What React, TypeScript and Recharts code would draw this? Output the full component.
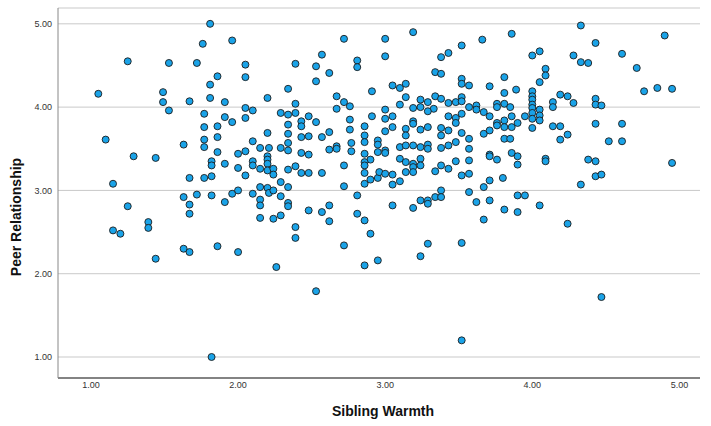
import { ScatterChart, Scatter, XAxis, YAxis, CartesianGrid, Label } from 'recharts'

// x = sibling warmth, y = peer relationship, paired by index
const siblingWarmth = [
  1.81, 1.76, 1.25, 1.53, 1.72, 1.86, 1.81, 1.05, 1.49, 1.49, 1.67, 1.81, 1.53, 1.77, 1.77, 1.86,
  1.10, 1.63, 1.77, 1.77, 1.86, 1.86, 1.29, 1.44, 1.82, 1.82, 1.67, 1.77, 1.82, 1.15, 1.63, 1.72,
  1.82, 1.25, 1.67, 1.67, 1.39, 1.39, 1.15, 1.20, 1.63, 1.67, 1.86, 1.44, 1.82,
  1.96, 2.72, 2.57, 2.05, 2.39, 2.53, 2.81, 2.81, 2.05, 2.62, 2.53, 2.34, 2.91, 1.91, 2.20, 2.67,
  2.39, 2.05, 2.10, 2.67, 2.72, 2.76, 1.91, 1.96, 2.05, 2.29, 2.34, 2.39, 2.43, 2.43, 2.48, 2.53,
  2.34, 2.76, 2.76, 2.86, 2.91, 2.20, 2.34, 2.62,
  2.10, 2.34, 2.43, 2.48, 2.57, 2.77, 2.86, 2.86, 2.95, 2.95, 2.05, 2.00, 2.15, 2.21, 2.29, 2.34,
  2.43, 2.48, 2.62, 2.67, 2.67, 2.77, 2.86, 2.90, 2.95, 1.91, 2.00, 2.10, 2.10, 2.20, 2.20, 2.20,
  2.15, 2.20, 2.24, 2.24, 2.34, 2.39, 2.43, 2.48, 2.57, 2.72, 2.86, 2.86, 2.86, 2.86, 2.90, 2.95,
  2.05, 2.29, 2.15, 2.20, 2.21, 2.24, 2.34, 2.72, 1.96, 2.00, 2.10, 2.15, 2.15, 2.29, 2.34, 2.34,
  2.81, 1.91, 2.48, 2.62, 2.57, 2.15, 2.24, 2.29, 2.62, 2.81, 2.86, 2.39, 2.39, 2.90, 2.00, 2.72,
  2.95, 2.26, 2.53, 2.86,
  3.19, 3.00, 3.86, 3.66, 3.00, 3.38, 3.43, 3.52, 4.00, 4.05, 3.34, 3.38, 3.52, 3.52, 3.57, 3.81,
  3.71, 3.05, 3.10, 3.14, 3.81, 3.89, 4.05, 4.00, 3.14, 3.34, 3.38, 3.24, 3.29, 3.10, 3.43, 3.48,
  3.52, 3.52, 3.00, 3.19, 3.24, 3.33, 3.57, 3.62, 3.62, 3.67, 3.76, 3.76, 3.81, 3.85, 4.00, 4.00,
  4.00, 4.00, 4.00, 4.05, 4.05, 3.00, 3.05, 3.29, 3.43, 3.48, 3.52, 3.71, 3.86, 3.95, 3.81, 4.00,
  3.19, 3.19, 3.48, 3.76, 3.76, 3.90, 3.05, 3.00, 3.14, 3.24, 3.29, 3.38, 3.43, 3.52, 3.67, 3.71,
  3.81, 3.86, 4.00,
  3.38, 3.14, 3.00, 3.00, 3.10, 3.14, 3.19, 3.24, 3.29, 3.29, 3.38, 3.43, 3.48, 3.57, 3.57, 3.81,
  3.85, 3.10, 3.14, 3.19, 3.19, 3.24, 3.24, 3.38, 3.43, 3.48, 3.57, 3.71, 3.71, 3.76, 3.86, 3.90,
  3.90, 2.96, 3.00, 3.05, 3.05, 3.10, 3.14, 3.19, 3.34, 3.52, 3.57, 3.71, 3.67, 3.80, 3.38, 3.57,
  3.90, 3.95, 3.24, 3.29, 3.29, 3.34, 3.38, 3.62, 3.71, 3.05, 3.19, 3.81, 3.90, 4.05, 3.67, 3.29,
  3.52, 3.24, 3.52,
  4.33, 4.90, 4.43, 4.28, 4.33, 4.38, 4.61, 4.71, 4.09, 4.09, 4.76, 4.85, 4.95, 4.19, 4.24, 4.14,
  4.14, 4.28, 4.43, 4.43, 4.47, 4.05, 4.14, 4.19, 4.43, 4.61, 4.24,
  4.19, 4.52, 4.61, 4.09, 4.09, 4.38, 4.43, 4.95, 4.43, 4.47, 4.33, 4.24, 4.47,
]

const peerRelationship = [
  5.00, 4.76, 4.55, 4.53, 4.53, 4.37, 4.27, 4.16, 4.18, 4.06, 4.07, 4.11, 3.96, 3.92, 3.76, 3.77,
  3.61, 3.55, 3.61, 3.52, 3.64, 3.46, 3.41, 3.39, 3.35, 3.30, 3.15, 3.15, 3.17, 3.08, 2.92, 2.95,
  2.94, 2.81, 2.83, 2.72, 2.62, 2.55, 2.52, 2.48, 2.30, 2.26, 2.33, 2.18, 1.00,
  4.80, 4.82, 4.63, 4.51, 4.52, 4.49, 4.56, 4.48, 4.36, 4.41, 4.31, 4.22, 4.19, 4.06, 4.11, 4.13,
  4.04, 3.99, 3.96, 3.98, 4.06, 4.01, 3.88, 3.82, 3.87, 3.93, 3.91, 3.93, 3.83, 3.77, 3.89, 3.82,
  3.79, 3.85, 3.73, 3.77, 3.89, 3.69, 3.68, 3.70,
  3.59, 3.57, 3.64, 3.65, 3.64, 3.57, 3.66, 3.58, 3.60, 3.55, 3.47, 3.44, 3.51, 3.51, 3.51, 3.48,
  3.45, 3.43, 3.49, 3.53, 3.50, 3.47, 3.44, 3.37, 3.46, 3.32, 3.27, 3.35, 3.30, 3.41, 3.37, 3.32,
  3.26, 3.24, 3.26, 3.19, 3.25, 3.29, 3.21, 3.21, 3.21, 3.30, 3.34, 3.30, 3.21, 3.08, 3.13, 3.15,
  3.18, 3.10, 3.04, 3.03, 2.97, 3.00, 3.04, 3.05, 2.96, 3.00, 2.96, 2.89, 2.82, 2.93, 2.85, 2.81,
  2.94, 2.86, 2.76, 2.82, 2.74, 2.67, 2.66, 2.70, 2.63, 2.72, 2.64, 2.56, 2.43, 2.48, 2.26, 2.34,
  2.16, 2.08, 1.79, 2.10,
  4.90, 4.82, 4.88, 4.81, 4.61, 4.60, 4.65, 4.74, 4.62, 4.67, 4.42, 4.40, 4.34, 4.28, 4.26, 4.36,
  4.25, 4.26, 4.23, 4.28, 4.17, 4.21, 4.30, 4.19, 4.12, 4.13, 4.10, 4.09, 4.06, 4.03, 4.05, 4.06,
  4.12, 4.07, 3.97, 3.99, 4.00, 3.98, 4.00, 4.02, 3.97, 3.94, 4.04, 4.00, 4.04, 4.00, 4.13, 4.09,
  4.03, 3.99, 3.93, 3.97, 3.90, 3.86, 3.89, 3.95, 3.89, 3.87, 3.92, 3.89, 3.89, 3.89, 3.84, 3.86,
  3.83, 3.80, 3.81, 3.81, 3.78, 3.81, 3.76, 3.71, 3.74, 3.73, 3.76, 3.75, 3.72, 3.69, 3.68, 3.72,
  3.76, 3.76, 3.75,
  3.66, 3.66, 3.48, 3.45, 3.52, 3.54, 3.54, 3.52, 3.55, 3.50, 3.51, 3.54, 3.58, 3.62, 3.50, 3.62,
  3.62, 3.38, 3.34, 3.32, 3.28, 3.38, 3.30, 3.30, 3.26, 3.35, 3.36, 3.43, 3.41, 3.37, 3.45, 3.41,
  3.31, 3.22, 3.20, 3.19, 3.07, 3.11, 3.22, 3.22, 3.23, 3.18, 3.20, 3.12, 3.04, 3.15, 3.00, 2.98,
  2.94, 2.94, 2.88, 2.88, 2.84, 2.92, 2.92, 2.86, 2.88, 2.82, 2.79, 2.77, 2.74, 2.82, 2.65, 2.36,
  2.37, 2.21, 1.20,
  4.98, 4.86, 4.77, 4.62, 4.54, 4.53, 4.64, 4.47, 4.46, 4.38, 4.19, 4.23, 4.22, 4.15, 4.13, 4.06,
  4.00, 4.05, 4.10, 4.03, 4.02, 3.84, 3.77, 3.77, 3.80, 3.80, 3.67,
  3.61, 3.59, 3.59, 3.38, 3.35, 3.37, 3.35, 3.33, 3.17, 3.19, 3.07, 2.60, 1.72,
]

const xTicks = [1, 2, 3, 4, 5]
const yTicks = [1, 2, 3, 4, 5]

const points = siblingWarmth.map((x, i) => ({ x, y: peerRelationship[i] }))

const font = '"Liberation Sans", Arial, sans-serif'

const Dot = (props: any) => {
  const { cx, cy } = props
  return <circle cx={cx} cy={cy} r={3.5} fill="#1aa3e8" stroke="#1c1c1c" strokeWidth={0.9} />
}

export default function App() {
  return (
    <div style={{ position: 'absolute', left: 0, top: 0, width: 711, height: 426, background: '#fff' }}>
      <ScatterChart width={711} height={426} margin={{ top: 8, right: 11, bottom: 0, left: 0 }}>
        <CartesianGrid vertical={false} stroke="#c9c9c9" strokeWidth={1} />
        <XAxis
          type="number"
          dataKey="x"
          domain={[0.776, 5.14]}
          ticks={xTicks}
          allowDataOverflow
          height={48}
          tickLine={false}
          tickSize={2}
          axisLine={{ stroke: '#222' }}
          tick={{ fontSize: 9, fill: '#333', fontFamily: font }}
          tickFormatter={(v: number) => v.toFixed(2)}
        >
          <Label
            content={({ viewBox }: any) => (
              <text
                x={viewBox.x + viewBox.width / 2 + 4}
                y={viewBox.y + 38}
                textAnchor="middle"
                fontFamily={font}
                fontWeight="bold"
                fontSize={14}
                fill="#111"
              >
                Sibling Warmth
              </text>
            )}
          />
        </XAxis>
        <YAxis
          type="number"
          dataKey="y"
          domain={[0.748, 5.19]}
          ticks={yTicks}
          allowDataOverflow
          width={58}
          tickLine={false}
          tickSize={4}
          axisLine={{ stroke: '#888' }}
          tick={{ fontSize: 9, fill: '#333', fontFamily: font }}
          tickFormatter={(v: number) => v.toFixed(2)}
        >
          <Label
            content={({ viewBox }: any) => (
              <text
                x={16}
                y={viewBox.y + viewBox.height / 2 + 24}
                textAnchor="middle"
                dominantBaseline="central"
                transform={`rotate(-90, 16, ${viewBox.y + viewBox.height / 2 + 24})`}
                fontFamily={font}
                fontWeight="bold"
                fontSize={14}
                fill="#111"
              >
                Peer Relationship
              </text>
            )}
          />
        </YAxis>
        <Scatter data={points} shape={Dot} isAnimationActive={false} />
      </ScatterChart>
    </div>
  )
}
